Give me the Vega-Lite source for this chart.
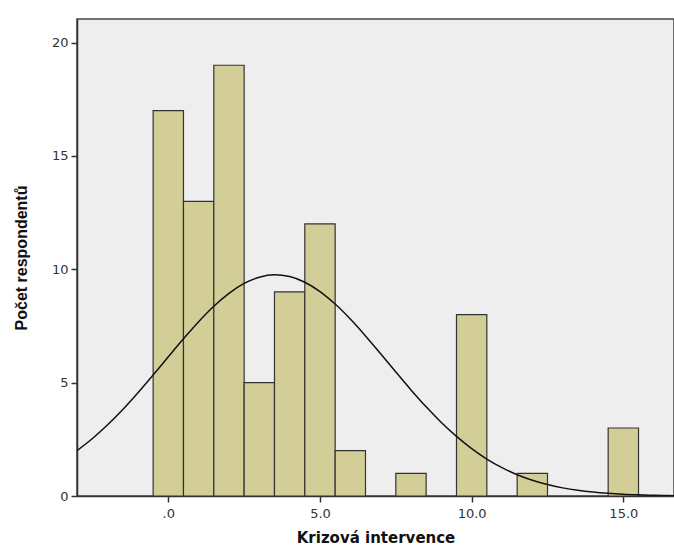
{
  "$schema": "https://vega.github.io/schema/vega-lite/v6.json",
  "width": 597,
  "height": 477,
  "autosize": "none",
  "padding": {"left": 77, "top": 19, "right": 0, "bottom": 53},
  "background": "white",
  "config": {
    "view": {"fill": "#eeeeee", "stroke": "#444444", "strokeWidth": 1.5},
    "axis": {
      "grid": false,
      "domainColor": "#333333",
      "domainWidth": 1.5,
      "tickColor": "#333333",
      "tickSize": 6,
      "tickWidth": 1.5,
      "labelFont": "DejaVu Sans",
      "labelFontSize": 13,
      "labelColor": "#333333",
      "titleColor": "#111111"
    }
  },
  "datasets": {
    "bars": [
      {"start": -0.5, "end": 0.5, "count": 17},
      {"start": 0.5, "end": 1.5, "count": 13},
      {"start": 1.5, "end": 2.5, "count": 19},
      {"start": 2.5, "end": 3.5, "count": 5},
      {"start": 3.5, "end": 4.5, "count": 9},
      {"start": 4.5, "end": 5.5, "count": 12},
      {"start": 5.5, "end": 6.5, "count": 2},
      {"start": 7.5, "end": 8.5, "count": 1},
      {"start": 9.5, "end": 10.5, "count": 8},
      {"start": 11.5, "end": 12.5, "count": 1},
      {"start": 14.5, "end": 15.5, "count": 3}
    ],
    "curve": [
      {"x": -3, "y": 2.011}, {"x": -2.5, "y": 2.537}, {"x": -2, "y": 3.142}, {"x": -1.5, "y": 3.819},
      {"x": -1, "y": 4.559}, {"x": -0.5, "y": 5.340}, {"x": 0, "y": 6.142}, {"x": 0.5, "y": 6.935},
      {"x": 1, "y": 7.688}, {"x": 1.5, "y": 8.367}, {"x": 2, "y": 8.938}, {"x": 2.5, "y": 9.375},
      {"x": 3, "y": 9.652}, {"x": 3.5, "y": 9.757}, {"x": 4, "y": 9.681}, {"x": 4.5, "y": 9.430},
      {"x": 5, "y": 9.018}, {"x": 5.5, "y": 8.466}, {"x": 6, "y": 7.804}, {"x": 6.5, "y": 7.060},
      {"x": 7, "y": 6.271}, {"x": 7.5, "y": 5.468}, {"x": 8, "y": 4.680}, {"x": 8.5, "y": 3.933},
      {"x": 9, "y": 3.245}, {"x": 9.5, "y": 2.629}, {"x": 10, "y": 2.090}, {"x": 10.5, "y": 1.631},
      {"x": 11, "y": 1.250}, {"x": 11.5, "y": 0.940}, {"x": 12, "y": 0.694}, {"x": 12.5, "y": 0.503},
      {"x": 13, "y": 0.358}, {"x": 13.5, "y": 0.250}, {"x": 14, "y": 0.172}, {"x": 14.5, "y": 0.116},
      {"x": 15, "y": 0.076}, {"x": 15.5, "y": 0.050}, {"x": 16, "y": 0.032}, {"x": 16.5, "y": 0.020},
      {"x": 16.67, "y": 0.016}
    ]
  },
  "layer": [
    {
      "data": {"name": "bars"},
      "mark": {"type": "rect", "fill": "#d3ce97", "stroke": "#333333", "strokeWidth": 1.2},
      "encoding": {
        "x": {
          "field": "start", "type": "quantitative",
          "scale": {"domain": [-3.01, 16.67], "nice": false, "zero": false},
          "axis": {
            "values": [0, 5, 10, 15],
            "labelExpr": "datum.value == 0 ? '.0' : format(datum.value, '.1f')",
            "title": "Krizová intervence",
            "titleFont": "DejaVu Sans",
            "titleFontSize": 15,
            "titleFontWeight": "bold",
            "titlePadding": 10,
            "labelPadding": 5
          }
        },
        "x2": {"field": "end"},
        "y": {
          "field": "count", "type": "quantitative",
          "scale": {"domain": [0, 21.04], "nice": false},
          "axis": {
            "values": [0, 5, 10, 15, 20],
            "title": "Počet respondentů",
            "titleFont": "Liberation Sans",
            "titleFontSize": 16,
            "titleFontWeight": "bold",
            "titlePadding": 22,
            "labelPadding": 3
          }
        },
        "y2": {"datum": 0}
      }
    },
    {
      "data": {"name": "curve"},
      "mark": {"type": "line", "color": "#111111", "strokeWidth": 1.5, "interpolate": "monotone", "clip": true},
      "encoding": {
        "x": {"field": "x", "type": "quantitative"},
        "y": {"field": "y", "type": "quantitative"}
      }
    }
  ]
}
